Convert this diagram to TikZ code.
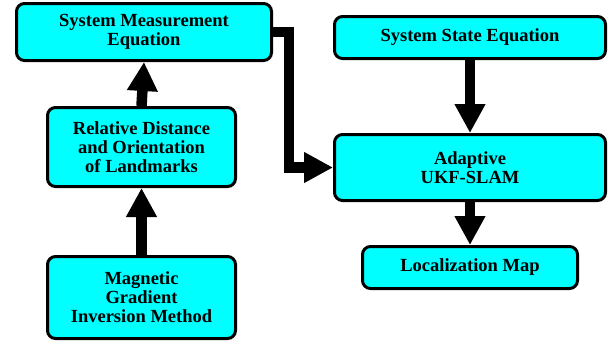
\documentclass[tikz,border=0pt]{standalone}
\usepackage{fontspec}
\setmainfont{Liberation Serif}
\usetikzlibrary{arrows.meta}
\definecolor{boxfill}{RGB}{0,255,255}
\tikzset{
  blk/.style={draw=black, fill=boxfill, line width=3pt, rounded corners=8pt,
    inner sep=0pt, align=center, font=\fontsize{18.5}{19}\selectfont\bfseries},
  flow/.style={line width=10.5pt, -{Triangle[width=29pt,length=29pt]}, miter limit=10}
}
\begin{document}
\begin{tikzpicture}[x=1pt,y=-1pt]
\useasboundingbox[fill=white] (0,0) rectangle (615,343);
\node[blk, minimum width=255pt, minimum height=57pt] (sme) at (144,32) {System Measurement\\Equation};
\node[blk, minimum width=188pt, minimum height=79pt] (rel) at (141.5,147) {Relative Distance\\and Orientation\\of Landmarks};
\node[blk, minimum width=188pt, minimum height=82pt] (mag) at (141.5,297.5) {Magnetic\\Gradient\\Inversion Method};
\node[blk, minimum width=271pt, minimum height=42pt] (sse) at (470,37.5) {System State Equation};
\node[blk, minimum width=271pt, minimum height=66pt] (ukf) at (470,167.5) {Adaptive\\UKF-SLAM};
\node[blk, minimum width=215pt, minimum height=42pt] (loc) at (470,267.5) {Localization Map};
\draw[flow] (mag.north) -- (rel.south);
\draw[flow] (rel.north) -- (sme.south);
\draw[flow] (sse.south) -- (ukf.north);
\draw[flow] (ukf.south) -- (loc.north);
\draw[flow] (sme.east) -- ++(16,0) |- (ukf.west);
\end{tikzpicture}
\end{document}
